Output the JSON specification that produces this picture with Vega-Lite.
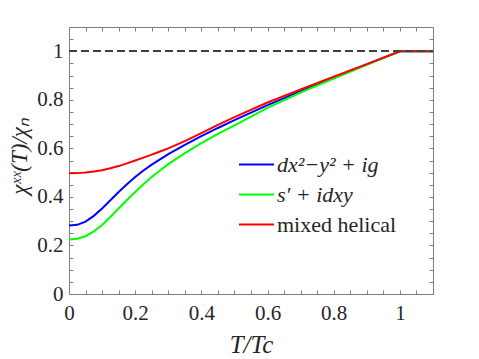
{
  "$schema": "https://vega.github.io/schema/vega-lite/v6.json",
  "autosize": {"type": "none"},
  "padding": {"left": 69, "top": 27, "right": 46, "bottom": 65},
  "width": 364,
  "height": 267,
  "config": {
    "view": {"stroke": null},
    "axis": {
      "grid": false,
      "domainColor": "#7f7f7f",
      "domainWidth": 1,
      "tickColor": "#7f7f7f",
      "tickSize": 4,
      "tickWidth": 1
    }
  },
  "data": {
    "values": [
      {"t": 0, "s": "dx²−y² + ig", "chi": 0.282},
      {"t": 0.025, "s": "dx²−y² + ig", "chi": 0.285},
      {"t": 0.05, "s": "dx²−y² + ig", "chi": 0.298},
      {"t": 0.075, "s": "dx²−y² + ig", "chi": 0.322},
      {"t": 0.1, "s": "dx²−y² + ig", "chi": 0.352},
      {"t": 0.125, "s": "dx²−y² + ig", "chi": 0.386},
      {"t": 0.15, "s": "dx²−y² + ig", "chi": 0.42},
      {"t": 0.175, "s": "dx²−y² + ig", "chi": 0.452},
      {"t": 0.2, "s": "dx²−y² + ig", "chi": 0.482},
      {"t": 0.225, "s": "dx²−y² + ig", "chi": 0.509},
      {"t": 0.25, "s": "dx²−y² + ig", "chi": 0.533},
      {"t": 0.275, "s": "dx²−y² + ig", "chi": 0.555},
      {"t": 0.3, "s": "dx²−y² + ig", "chi": 0.576},
      {"t": 0.35, "s": "dx²−y² + ig", "chi": 0.614},
      {"t": 0.4, "s": "dx²−y² + ig", "chi": 0.65},
      {"t": 0.45, "s": "dx²−y² + ig", "chi": 0.684},
      {"t": 0.5, "s": "dx²−y² + ig", "chi": 0.716},
      {"t": 0.6, "s": "dx²−y² + ig", "chi": 0.778},
      {"t": 0.7, "s": "dx²−y² + ig", "chi": 0.836},
      {"t": 0.8, "s": "dx²−y² + ig", "chi": 0.892},
      {"t": 0.9, "s": "dx²−y² + ig", "chi": 0.946},
      {"t": 1.0, "s": "dx²−y² + ig", "chi": 1.0},
      {"t": 1.1, "s": "dx²−y² + ig", "chi": 1.0},
      {"t": 0, "s": "s′ + idxy", "chi": 0.225},
      {"t": 0.025, "s": "s′ + idxy", "chi": 0.228},
      {"t": 0.05, "s": "s′ + idxy", "chi": 0.238},
      {"t": 0.075, "s": "s′ + idxy", "chi": 0.258},
      {"t": 0.1, "s": "s′ + idxy", "chi": 0.284},
      {"t": 0.125, "s": "s′ + idxy", "chi": 0.317},
      {"t": 0.15, "s": "s′ + idxy", "chi": 0.352},
      {"t": 0.175, "s": "s′ + idxy", "chi": 0.387},
      {"t": 0.2, "s": "s′ + idxy", "chi": 0.42},
      {"t": 0.225, "s": "s′ + idxy", "chi": 0.452},
      {"t": 0.25, "s": "s′ + idxy", "chi": 0.482},
      {"t": 0.275, "s": "s′ + idxy", "chi": 0.509},
      {"t": 0.3, "s": "s′ + idxy", "chi": 0.535},
      {"t": 0.35, "s": "s′ + idxy", "chi": 0.58},
      {"t": 0.4, "s": "s′ + idxy", "chi": 0.622},
      {"t": 0.45, "s": "s′ + idxy", "chi": 0.66},
      {"t": 0.5, "s": "s′ + idxy", "chi": 0.695},
      {"t": 0.6, "s": "s′ + idxy", "chi": 0.767},
      {"t": 0.7, "s": "s′ + idxy", "chi": 0.83},
      {"t": 0.8, "s": "s′ + idxy", "chi": 0.888},
      {"t": 0.9, "s": "s′ + idxy", "chi": 0.944},
      {"t": 1.0, "s": "s′ + idxy", "chi": 1.0},
      {"t": 1.1, "s": "s′ + idxy", "chi": 1.0},
      {"t": 0, "s": "mixed helical", "chi": 0.497},
      {"t": 0.025, "s": "mixed helical", "chi": 0.498},
      {"t": 0.05, "s": "mixed helical", "chi": 0.501},
      {"t": 0.075, "s": "mixed helical", "chi": 0.505},
      {"t": 0.1, "s": "mixed helical", "chi": 0.51},
      {"t": 0.125, "s": "mixed helical", "chi": 0.518},
      {"t": 0.15, "s": "mixed helical", "chi": 0.527},
      {"t": 0.175, "s": "mixed helical", "chi": 0.538},
      {"t": 0.2, "s": "mixed helical", "chi": 0.55},
      {"t": 0.225, "s": "mixed helical", "chi": 0.562},
      {"t": 0.25, "s": "mixed helical", "chi": 0.574},
      {"t": 0.275, "s": "mixed helical", "chi": 0.587},
      {"t": 0.3, "s": "mixed helical", "chi": 0.6},
      {"t": 0.35, "s": "mixed helical", "chi": 0.63},
      {"t": 0.4, "s": "mixed helical", "chi": 0.663},
      {"t": 0.45, "s": "mixed helical", "chi": 0.697},
      {"t": 0.5, "s": "mixed helical", "chi": 0.729},
      {"t": 0.6, "s": "mixed helical", "chi": 0.789},
      {"t": 0.7, "s": "mixed helical", "chi": 0.843},
      {"t": 0.8, "s": "mixed helical", "chi": 0.895},
      {"t": 0.9, "s": "mixed helical", "chi": 0.947},
      {"t": 1.0, "s": "mixed helical", "chi": 1.0},
      {"t": 1.1, "s": "mixed helical", "chi": 1.0}
    ]
  },
  "layer": [
    {
      "mark": {"type": "line", "strokeWidth": 2, "interpolate": "linear", "clip": true},
      "encoding": {
        "x": {
          "field": "t", "type": "quantitative",
          "scale": {"domain": [0, 1.1], "nice": false, "zero": false},
          "axis": {
            "orient": "bottom",
            "title": "T/Tc",
            "values": [0, 0.2, 0.4, 0.6, 0.8, 1.0],
            "format": ".1~f",
            "ticks": false,
            "labelFont": "Liberation Serif",
            "labelFontSize": 21,
            "labelColor": "#262626",
            "titleFont": "Liberation Serif",
            "titleFontSize": 25,
            "titleFontStyle": "italic",
            "titleFontWeight": "normal",
            "titleColor": "#262626",
            "labelPadding": 8,
            "labelFlush": false,
            "labelOverlap": false,
            "titleX": 182,
            "titleY": 50,
            "titleBaseline": "middle",
            "titleAlign": "center"
          }
        },
        "y": {
          "field": "chi", "type": "quantitative",
          "scale": {"domain": [0, 1.1], "nice": false, "zero": false},
          "axis": {
            "orient": "left",
            "title": "χˣˣ(T)/χₙ",
            "values": [0, 0.2, 0.4, 0.6, 0.8, 1.0],
            "format": ".1~f",
            "ticks": false,
            "labelFont": "Liberation Serif",
            "labelFontSize": 21,
            "labelColor": "#262626",
            "titleFont": "Liberation Serif",
            "titleFontSize": 23,
            "titleFontStyle": "italic",
            "titleFontWeight": "normal",
            "titleColor": "#262626",
            "labelPadding": 6,
            "labelFlush": false,
            "labelOverlap": false,
            "titleX": -50,
            "titleY": 129,
            "titleBaseline": "middle",
            "titleAlign": "center",
            "titleAngle": -90
          }
        },
        "color": {
          "field": "s", "type": "nominal",
          "sort": ["dx²−y² + ig", "s′ + idxy", "mixed helical"],
          "scale": {"domain": ["dx²−y² + ig", "s′ + idxy", "mixed helical"], "range": ["#0000ff", "#00ff00", "#ff0000"]},
          "legend": {
            "title": null,
            "orient": "none",
            "legendX": 169,
            "legendY": 119,
            "symbolType": "stroke",
            "symbolSize": 1225,
            "symbolStrokeWidth": 2,
            "labelFont": "Liberation Serif",
            "labelFontSize": 22,
            "labelColor": "#262626",
            "labelOffset": 2,
            "rowPadding": 0,
            "padding": 0,
            "labelLimit": 300,
            "encode": {
              "labels": {"update": {"fontStyle": {"signal": "datum.label == 'mixed helical' ? 'normal' : 'italic'"}}}
            }
          }
        }
      }
    },
    {
      "mark": {"type": "point", "opacity": 0},
      "encoding": {
        "x": {
          "field": "t", "type": "quantitative",
          "axis": {
            "orient": "top", "offset": -267, "title": null, "labels": false, "domain": false,
            "values": [0, 0.05, 0.1, 0.15, 0.2, 0.25, 0.3, 0.35, 0.4, 0.45, 0.5, 0.55, 0.6, 0.65, 0.7, 0.75, 0.8, 0.85, 0.9, 0.95, 1.0, 1.05]
          }
        },
        "y": {
          "field": "chi", "type": "quantitative",
          "axis": {
            "orient": "right", "offset": -364, "title": null, "labels": false, "domain": false,
            "values": [0, 0.05, 0.1, 0.15, 0.2, 0.25, 0.3, 0.35, 0.4, 0.45, 0.5, 0.55, 0.6, 0.65, 0.7, 0.75, 0.8, 0.85, 0.9, 0.95, 1.0, 1.05]
          }
        }
      }
    },
    {
      "mark": {"type": "rule", "color": "#404040", "strokeWidth": 1.5, "strokeDash": [8, 4]},
      "encoding": {
        "x": {
          "datum": 0, "type": "quantitative",
          "axis": {
            "orient": "bottom", "offset": -267, "title": null, "labels": false,
            "values": [0, 0.05, 0.1, 0.15, 0.2, 0.25, 0.3, 0.35, 0.4, 0.45, 0.5, 0.55, 0.6, 0.65, 0.7, 0.75, 0.8, 0.85, 0.9, 0.95, 1.0, 1.05]
          }
        },
        "x2": {"datum": 1.1},
        "y": {
          "datum": 1, "type": "quantitative",
          "axis": {
            "orient": "left", "offset": -364, "title": null, "labels": false,
            "values": [0, 0.05, 0.1, 0.15, 0.2, 0.25, 0.3, 0.35, 0.4, 0.45, 0.5, 0.55, 0.6, 0.65, 0.7, 0.75, 0.8, 0.85, 0.9, 0.95, 1.0, 1.05]
          }
        }
      }
    }
  ],
  "resolve": {"axis": {"x": "independent", "y": "independent"}}
}
